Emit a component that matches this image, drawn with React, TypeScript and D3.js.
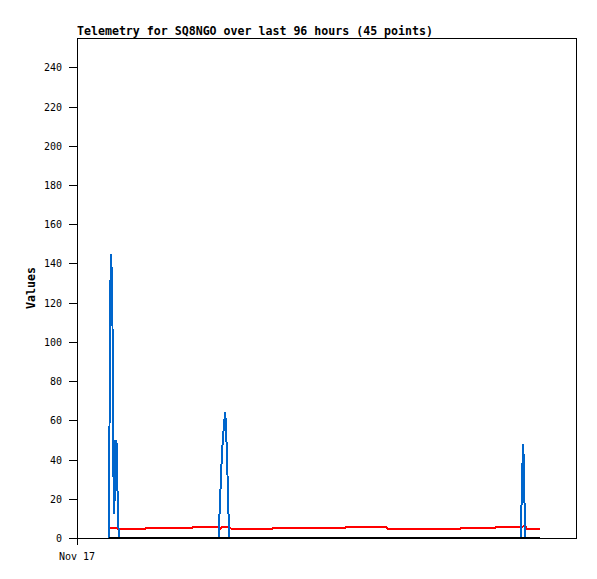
import React from "react";
import * as d3 from "d3";

const title = "Telemetry for SQ8NGO over last 96 hours (45 points)";
const yLabel = "Values";
const xTickLabels = ["Nov 17"];
const xTickHours = [0];
const yTicks = [0, 20, 40, 60, 80, 100, 120, 140, 160, 180, 200, 220, 240];

// hours since Nov 17 00:00
const hours = [
  6.144, 6.24, 6.394, 6.586, 6.816, 6.97, 7.162, 7.392, 7.642, 7.776, 8.026,
  13.056, 13.248, 22.08, 22.272,
  27.168, 27.36, 27.59, 27.84, 28.03, 28.22, 28.47, 28.61, 28.8, 29.09, 29.28,
  29.76, 37.44, 37.63, 51.46, 51.65, 59.33, 59.71, 73.54, 73.92, 80.26, 80.64,
  85.21, 85.31, 85.5, 85.69, 85.88, 86.05, 86.4, 88.9,
];
const blueSeries = [
  0, 56, 128, 145, 108, 36, 12, 50, 48, 24, 0,
  0, 0, 0, 0,
  0, 12, 27, 44, 51, 58, 64, 56, 42, 12, 0,
  0, 0, 0, 0, 0, 0, 0, 0, 0, 0, 0,
  0, 12, 36, 48, 24, 0, 0, 0,
];
const redSeries = [
  4.9, 4.9, 4.9, 4.9, 4.9, 5.0, 5.3, 5.3, 5.3, 4.7, 4.7,
  4.7, 5.25, 5.25, 5.75,
  5.75, 4.6, 4.8, 5.5, 5.5, 5.5, 5.5, 5.5, 5.5, 5.3, 5.0,
  4.75, 4.75, 5.25, 5.25, 5.75, 5.75, 4.75, 4.75, 5.25, 5.25, 5.75,
  5.75, 5.75, 5.75, 6.0, 6.4, 6.4, 4.6, 4.6,
];
const blackSeries = hours.map(() => 0);

const W = 597;
const H = 579;
const L = 77, R = 577, T = 38, B = 538;

export default function App() {
  const x = d3.scaleLinear().domain([0, 96]).range([L, R]);
  const y = d3.scaleLinear().domain([0, 255]).range([B, T]);
  const mk = (vals: number[]) =>
    d3
      .line<number>()
      .x((_, i) => x(hours[i]))
      .y((d) => y(d))(vals) as string;
  const tickFont = "'DejaVu Sans Mono', monospace";
  return (
    <svg
      width={W}
      height={H}
      style={{ position: "absolute", left: 0, top: 0, background: "#fff" }}
    >
      <rect x={0} y={0} width={W} height={H} fill="#fff" />
      <text
        x={L}
        y={35}
        fontFamily={tickFont}
        fontWeight="bold"
        fontSize={11.6}
        fill="#000"
      >
        {title}
      </text>
      {/* frame */}
      <rect
        x={L + 0.5}
        y={T + 0.5}
        width={R - L - 1}
        height={B - T}
        fill="none"
        stroke="#000"
        strokeWidth={1}
        shapeRendering="crispEdges"
      />
      {/* y ticks */}
      {yTicks.map((t) => (
        <g key={t}>
          <line
            x1={69}
            x2={L}
            y1={Math.round(y(t)) + 0.5}
            y2={Math.round(y(t)) + 0.5}
            stroke="#000"
            shapeRendering="crispEdges"
          />
          <text
            x={62}
            y={y(t) + 4}
            textAnchor="end"
            fontFamily={tickFont}
            fontSize={10}
            fill="#000"
          >
            {t}
          </text>
        </g>
      ))}
      {/* x ticks */}
      {xTickHours.map((h, i) => (
        <g key={h}>
          <line
            x1={Math.round(x(h)) + 0.5}
            x2={Math.round(x(h)) + 0.5}
            y1={B}
            y2={545}
            stroke="#000"
            shapeRendering="crispEdges"
          />
          <text
            x={x(h)}
            y={560}
            textAnchor="middle"
            fontFamily={tickFont}
            fontSize={10}
            fill="#000"
          >
            {xTickLabels[i]}
          </text>
        </g>
      ))}
      <text
        transform={`translate(35,${(T + B) / 2}) rotate(-90)`}
        textAnchor="middle"
        fontFamily={tickFont}
        fontWeight="bold"
        fontSize={11.6}
        fill="#000"
      >
        {yLabel}
      </text>
      <path d={mk(redSeries)} fill="none" stroke="#ff0000" strokeWidth={2} shapeRendering="crispEdges" />
      <path d={mk(blueSeries)} fill="none" stroke="#0066cc" strokeWidth={2} shapeRendering="crispEdges" />
      <path d={mk(blackSeries)} fill="none" stroke="#000" strokeWidth={2} shapeRendering="crispEdges" />
    </svg>
  );
}
